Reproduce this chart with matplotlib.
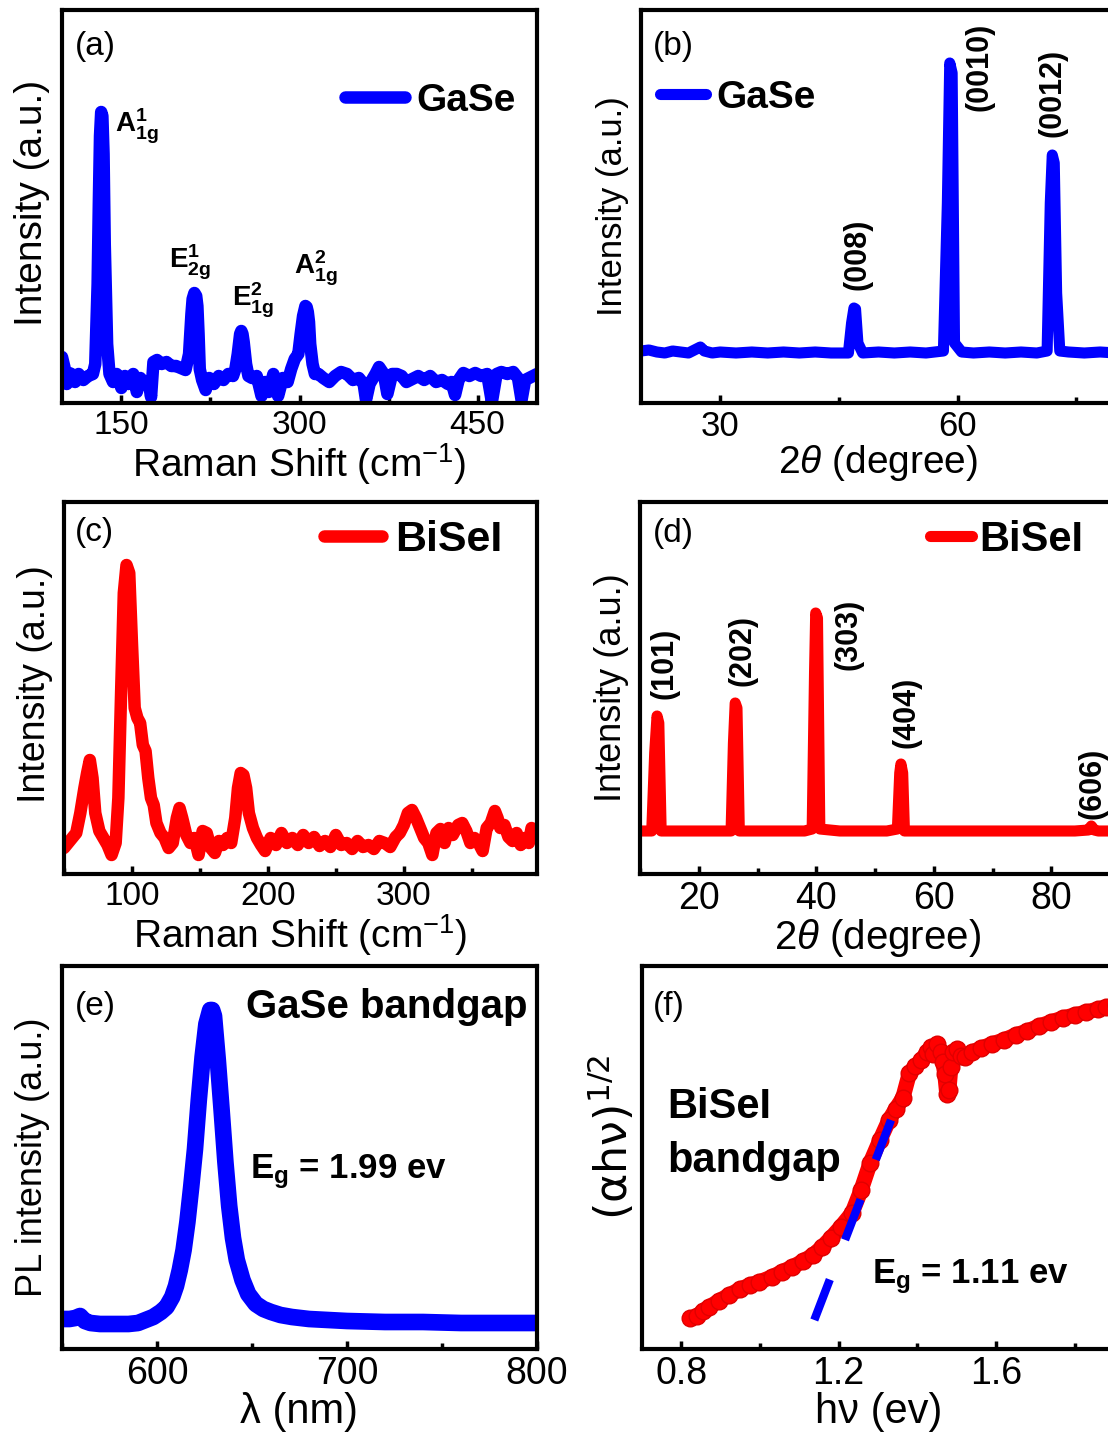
import matplotlib
matplotlib.use('Agg')
import matplotlib.pyplot as plt
from matplotlib.ticker import MultipleLocator

plt.rcParams['font.family'] = ['Liberation Sans', 'DejaVu Sans']
plt.rcParams['mathtext.fontset'] = 'custom'
plt.rcParams['mathtext.rm'] = 'Liberation Sans'
plt.rcParams['mathtext.it'] = 'Liberation Sans:italic'
plt.rcParams['mathtext.bf'] = 'Liberation Sans:bold'

BLUE = '#0000ff'
RED = '#ff0000'

# (a) GaSe Raman spectrum: (shift cm-1, intensity a.u.)
gase_raman = [
    (100, 47), (102, 37), (104, 20), (106, 31), (108, 30), (111, 22), (114, 30),
    (118, 24), (122, 28), (126, 30), (128, 40), (130, 120), (131, 200), (132, 268),
    (133, 292), (134, 288), (135, 250), (136, 160), (138, 60), (140, 30), (143, 22),
    (146, 30), (150, 16), (153, 28), (156, 20), (160, 30), (163, 12), (166, 26),
    (170, 20), (173, 22), (175, 7), (177, 42), (180, 44), (184, 40), (188, 42),
    (192, 38), (196, 38), (200, 36), (204, 34), (207, 50), (209, 90), (210, 105),
    (211.5, 111), (213, 108), (214, 98), (215, 70), (216, 35), (218, 24), (221, 14),
    (224, 26), (228, 20), (232, 28), (236, 24), (240, 30), (244, 28), (246, 35),
    (248, 50), (250, 70), (251, 73), (252, 70), (253, 62), (255, 40), (257, 28),
    (260, 26), (264, 28), (268, 8), (271, 22), (274, 12), (278, 30), (282, 8),
    (286, 26), (290, 22), (293, 35), (296, 45), (299, 50), (301, 70), (303, 88),
    (305, 98), (306, 97), (307, 92), (308, 82), (309, 60), (311, 40), (313, 30),
    (316, 30), (320, 26), (325, 22), (330, 28), (335, 32), (340, 30), (345, 24),
    (350, 26), (354, 20), (356, 4), (359, 20), (364, 30), (367, 37), (371, 30),
    (374, 10), (378, 30), (382, 30), (386, 28), (390, 22), (395, 25), (400, 28),
    (405, 24), (410, 28), (415, 22), (420, 24), (425, 20), (428, 22), (431, 9),
    (434, 24), (438, 31), (443, 28), (448, 31), (453, 28), (458, 30), (462, 2),
    (466, 30), (470, 32), (475, 30), (480, 32), (484, 26), (487, 4), (490, 24),
    (495, 27), (500, 30),
]
gase_modes = [r'$\mathbf{A^{1}_{1g}}$', r'$\mathbf{E^{1}_{2g}}$',
              r'$\mathbf{E^{2}_{1g}}$', r'$\mathbf{A^{2}_{1g}}$']
gase_mode_pos = [(144.4, 272), (189.7, 136), (243.3, 97), (295.3, 129)]

# (b) GaSe XRD: (2theta, intensity)
gase_xrd = [
    (20, 52), (21, 53), (22, 51), (23, 50), (24, 52), (25, 51), (26, 50), (27, 54),
    (27.5, 56), (28, 52), (29, 50), (30, 51), (32, 50), (34, 51), (36, 50), (38, 51),
    (40, 50), (42, 51), (44, 50), (46.2, 50), (46.6, 80), (46.9, 95), (47.1, 94),
    (47.4, 60), (48, 50), (50, 51), (52, 50), (54, 51), (56, 50), (58.2, 52),
    (58.7, 200), (59.0, 340), (59.3, 330), (59.6, 60), (60.5, 51), (62, 50),
    (64, 51), (66, 50), (68, 51), (70, 50), (71.3, 52), (71.7, 200), (71.95, 248),
    (72.2, 240), (72.5, 110), (72.9, 52), (74, 51), (76, 50), (78, 51), (80, 50),
]
gase_hkl = ['(008)', '(0010)', '(0012)']
gase_hkl_pos = [(47.4, 149), (62.8, 336), (72.0, 310)]

# (c) BiSeI Raman spectrum
bisei_raman = [
    (50, 25), (53, 30), (56, 35), (59, 40), (62, 60), (65, 85), (67, 100), (69, 113),
    (71, 95), (73, 60), (76, 42), (79, 35), (82, 28), (85, 18), (88, 30), (90, 75),
    (92, 180), (94, 280), (96, 308), (98, 300), (100, 230), (102, 165), (104, 155),
    (106, 150), (108, 128), (110, 122), (112, 95), (114, 75), (116, 68), (118, 50),
    (121, 40), (124, 35), (127, 25), (130, 30), (133, 55), (135, 65), (137, 55),
    (140, 38), (143, 30), (146, 35), (149, 18), (152, 42), (155, 40), (158, 25),
    (161, 20), (164, 32), (167, 28), (170, 35), (173, 30), (176, 55), (178, 85),
    (180, 100), (182, 98), (184, 85), (186, 60), (189, 45), (192, 35), (195, 28),
    (198, 22), (202, 35), (206, 28), (210, 40), (214, 30), (218, 35), (222, 28),
    (226, 38), (230, 30), (234, 36), (238, 27), (242, 32), (246, 26), (250, 38),
    (254, 28), (258, 30), (262, 24), (266, 32), (270, 26), (274, 28), (278, 24),
    (282, 32), (286, 30), (290, 26), (294, 36), (297, 40), (300, 48), (303, 60),
    (306, 63), (309, 55), (312, 45), (315, 35), (318, 30), (321, 18), (324, 40),
    (327, 44), (330, 30), (333, 45), (336, 38), (340, 48), (343, 50), (346, 42),
    (349, 30), (352, 35), (355, 30), (358, 22), (361, 45), (364, 50), (367, 62),
    (369, 55), (371, 45), (374, 48), (377, 36), (380, 32), (383, 40), (386, 28),
    (389, 35), (392, 30), (394, 45), (396, 42),
]

# (d) BiSeI XRD
bisei_xrd = [
    (10, 42), (12.0, 42), (12.5, 120), (12.9, 157), (13.2, 150), (13.6, 42),
    (16, 42), (20, 42), (24, 42), (25.5, 42), (25.9, 130), (26.2, 170), (26.5, 165),
    (26.9, 42), (30, 42), (34, 42), (38, 42), (39.3, 44), (39.7, 200), (39.9, 260),
    (40.2, 255), (40.6, 44), (44, 42), (48, 42), (52, 42), (53.8, 44), (54.2, 100),
    (54.4, 109), (54.7, 100), (55.0, 42), (60, 42), (65, 42), (70, 42), (75, 42),
    (80, 42), (84, 42), (86.3, 43), (86.8, 47), (87.3, 43), (88, 42), (91, 42),
]
bisei_hkl = ['(101)', '(202)', '(303)', '(404)', '(606)']
bisei_hkl_pos = [(14.1, 210), (27.4, 222), (45.5, 239), (55.4, 161), (87.0, 90)]

# (e) GaSe PL spectrum
pl_wavelength = [550, 554, 557, 559.5, 562, 565, 570, 575, 580, 585, 590, 594, 598,
                 602, 605, 608, 610, 612, 614, 616, 618, 620, 622, 624, 626, 628,
                 629, 630, 632, 634, 636, 638, 640, 642, 645, 648, 652, 656, 660,
                 665, 671, 680, 690, 700, 720, 740, 760, 780, 800]
pl_intensity = [33, 33, 34, 36, 31, 29, 28, 28, 28, 28, 29, 32, 35,
                40, 45, 55, 66, 82, 102, 130, 165, 203, 252, 295, 328, 342,
                342, 336, 292, 242, 190, 146, 114, 92, 72, 58, 48, 43, 40,
                37, 35, 33, 32, 31, 30, 30, 29, 29, 29]

# (f) BiSeI Tauc plot
tauc_hv = [0.823, 0.84, 0.855, 0.871, 0.895, 0.922, 0.95, 0.975, 0.998, 1.03,
           1.055, 1.082, 1.11, 1.135, 1.158, 1.18, 1.205, 1.234, 1.257, 1.28,
           1.305, 1.328, 1.345, 1.363, 1.38, 1.395, 1.41, 1.425, 1.435, 1.44,
           1.45, 1.46, 1.465, 1.47, 1.475, 1.48, 1.485, 1.49, 1.50, 1.51,
           1.52, 1.54, 1.563, 1.59, 1.62, 1.65, 1.68, 1.71, 1.74, 1.77,
           1.80, 1.83, 1.86, 1.88, 1.905]
tauc_ahv = [34, 36, 41, 45, 51, 57, 63, 67, 70, 75,
            80, 85, 91, 97, 105, 114, 125, 139, 162, 189,
            212, 232, 243, 254, 279, 286, 292, 300, 305, 298,
            308, 300, 290, 278, 258, 262, 285, 300, 303, 296,
            295, 300, 304, 308, 312, 317, 321, 326, 330, 334,
            337, 340, 343, 345, 347]
tauc_fit_hv = [1.138, 1.333]
tauc_fit_ahv = [32, 232]

W, H = 1108, 1439
fig = plt.figure(figsize=(W / 100, H / 100), dpi=100)


def box(left, top, right, bottom):
    return [left / W, 1 - bottom / H, (right - left) / W, (bottom - top) / H]


def style(ax, major, minor, tsize):
    for s in ax.spines.values():
        s.set_linewidth(3)
    ax.xaxis.set_major_locator(MultipleLocator(major))
    ax.xaxis.set_minor_locator(MultipleLocator(minor))
    ax.tick_params(axis='x', which='major', direction='in', length=6, width=2.5,
                   labelsize=tsize, pad=5)
    ax.tick_params(axis='x', which='minor', direction='in', length=4, width=2.5)
    ax.tick_params(axis='y', which='both', left=False, labelleft=False)


def ylab(ax, text, x, y, size=26, **kw):
    ax.set_ylabel(text, fontsize=size, **kw)
    ax.yaxis.set_label_coords(x, y)
    ax.yaxis.label.set_verticalalignment('center')


def add_legend(ax, x, y, hlen, hpad, size):
    ax.legend(loc='center left', bbox_to_anchor=(x, y), frameon=False,
              borderpad=0, borderaxespad=0, handlelength=hlen,
              handletextpad=hpad, prop={'weight': 'bold', 'size': size})


def panel_tag(ax, tag, x, y):
    ax.text(x, y, tag, transform=ax.transAxes, fontsize=24,
            ha='left', va='center')


# (a)
ax = fig.add_axes(box(62, 10, 537, 403))
shift, inten = zip(*gase_raman)
ax.plot(shift, inten, color=BLUE, lw=9, solid_joinstyle='round',
        solid_capstyle='round', label='GaSe')
ax.set_xlim(100, 500)
ax.set_ylim(1, 394)
style(ax, 150, 75, 24)
ax.set_xlabel('Raman Shift (cm$^{-1}$)', fontsize=28, labelpad=0)
ylab(ax, 'Intensity (a.u.)', -0.063, 0.51, 28)
panel_tag(ax, '(a)', 0.027, 0.906)
add_legend(ax, 0.595, 0.769, 1.55, 0.3, 28)
for lab, (x, y) in zip(gase_modes, gase_mode_pos):
    ax.text(x, y, lab, fontsize=20, ha='left', va='baseline')

# (b)
ax = fig.add_axes(box(641, 10, 1116, 403))
tt, inten = zip(*gase_xrd)
ax.plot(tt, inten, color=BLUE, lw=8, solid_joinstyle='round',
        solid_capstyle='round', label='GaSe')
ax.set_xlim(20, 80)
ax.set_ylim(0, 393)
style(ax, 30, 15, 25)
ax.set_xlabel(r'2$\theta$ (degree)', fontsize=28, labelpad=0)
ylab(ax, 'Intensity (a.u.)', -0.059, 0.50, 25)
panel_tag(ax, '(b)', 0.025, 0.906)
add_legend(ax, 0.04, 0.776, 1.18, 0.26, 28)
for lab, (x, y) in zip(gase_hkl, gase_hkl_pos):
    ax.text(x, y, lab, fontsize=22, fontweight='bold', rotation=90,
            ha='center', va='center')

# (c)
ax = fig.add_axes(box(64, 502, 537, 874))
shift, inten = zip(*bisei_raman)
ax.plot(shift, inten, color=RED, lw=9, solid_joinstyle='round',
        solid_capstyle='round', label='BiSeI')
ax.set_xlim(50, 398)
ax.set_ylim(-1, 371)
style(ax, 100, 50, 24)
ax.set_xlabel('Raman Shift (cm$^{-1}$)', fontsize=28, labelpad=0)
ylab(ax, 'Intensity (a.u.)', -0.062, 0.51, 27)
panel_tag(ax, '(c)', 0.023, 0.919)
add_legend(ax, 0.55, 0.898, 1.35, 0.3, 31)

# (d)
ax = fig.add_axes(box(640, 502, 1116, 874))
tt, inten = zip(*bisei_xrd)
ax.plot(tt, inten, color=RED, lw=8, solid_joinstyle='round',
        solid_capstyle='round', label='BiSeI')
ax.set_xlim(10, 91)
ax.set_ylim(-1, 371)
style(ax, 20, 10, 27)
ax.set_xlabel(r'2$\theta$ (degree)', fontsize=29, labelpad=0)
ylab(ax, 'Intensity (a.u.)', -0.059, 0.50)
panel_tag(ax, '(d)', 0.027, 0.914)
add_legend(ax, 0.609, 0.898, 1.0, 0.19, 30)
for lab, (x, y) in zip(bisei_hkl, bisei_hkl_pos):
    ax.text(x, y, lab, fontsize=22, fontweight='bold', rotation=90,
            ha='center', va='center')

# (e)
ax = fig.add_axes(box(62, 966, 537, 1349))
ax.plot(pl_wavelength, pl_intensity, color=BLUE, lw=12,
        solid_joinstyle='round', solid_capstyle='round')
ax.set_xlim(550, 800)
ax.set_ylim(3, 386)
style(ax, 100, 50, 27)
ax.set_xlabel('λ (nm)', fontsize=30, labelpad=0)
ylab(ax, 'PL intensity (a.u.)', -0.063, 0.50)
panel_tag(ax, '(e)', 0.027, 0.893)
ax.text(0.979, 0.864, 'GaSe bandgap', transform=ax.transAxes, fontsize=29,
        fontweight='bold', ha='right', va='baseline')
ax.text(0.396, 0.446, r'$\mathbf{E_g}$ = 1.99 ev', transform=ax.transAxes,
        fontsize=25, fontweight='bold', ha='left', va='baseline')

# (f)
ax = fig.add_axes(box(642, 966, 1116, 1349))
ax.plot(tauc_hv, tauc_ahv, color=RED, lw=11, marker='o', ms=12,
        mfc=RED, mec='#e00000', solid_joinstyle='round', solid_capstyle='round')
ax.plot(tauc_fit_hv, tauc_fit_ahv, color=BLUE, lw=6, dashes=(5.2, 5.1),
        dash_capstyle='butt')
ax.set_xlim(0.7, 1.905)
ax.set_ylim(3, 386)
style(ax, 0.4, 0.2, 27)
ax.set_xlabel('hν (ev)', fontsize=30, labelpad=0)
ylab(ax, '(αhν)$^{1/2}$', -0.063, 0.553, 32, family='DejaVu Sans',
     math_fontfamily='dejavusans')
panel_tag(ax, '(f)', 0.023, 0.893)
ax.text(0.053, 0.603, 'BiSeI', transform=ax.transAxes, fontsize=30,
        fontweight='bold', ha='left', va='baseline')
ax.text(0.053, 0.462, 'bandgap', transform=ax.transAxes, fontsize=30,
        fontweight='bold', ha='left', va='baseline')
ax.text(0.486, 0.172, r'$\mathbf{E_g}$ = 1.11 ev', transform=ax.transAxes,
        fontsize=25, fontweight='bold', ha='left', va='baseline')

fig.savefig('out.png', dpi=100)
